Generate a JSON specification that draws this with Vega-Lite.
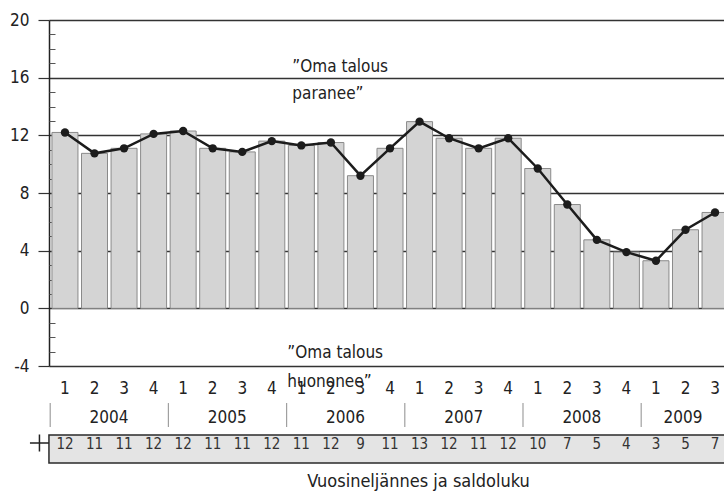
{
  "$schema": "https://vega.github.io/schema/vega-lite/v6.json",
  "width": 675,
  "height": 346,
  "autosize": "none",
  "padding": {"left": 49, "top": 20, "right": 0, "bottom": 128},
  "background": "white",
  "config": {
    "view": {"stroke": null},
    "font": "DejaVu Sans Condensed, sans-serif",
    "text": {"color": "#222"}
  },
  "datasets": {
    "kvartaalit": [
      {"kausi": "2004 1", "vuosi": "2004", "q": 1, "arvo": 12.2, "saldo": 12},
      {"kausi": "2004 2", "vuosi": "2004", "q": 2, "arvo": 10.75, "saldo": 11},
      {"kausi": "2004 3", "vuosi": "2004", "q": 3, "arvo": 11.1, "saldo": 11},
      {"kausi": "2004 4", "vuosi": "2004", "q": 4, "arvo": 12.1, "saldo": 12},
      {"kausi": "2005 1", "vuosi": "2005", "q": 1, "arvo": 12.3, "saldo": 12},
      {"kausi": "2005 2", "vuosi": "2005", "q": 2, "arvo": 11.1, "saldo": 11},
      {"kausi": "2005 3", "vuosi": "2005", "q": 3, "arvo": 10.85, "saldo": 11},
      {"kausi": "2005 4", "vuosi": "2005", "q": 4, "arvo": 11.6, "saldo": 12},
      {"kausi": "2006 1", "vuosi": "2006", "q": 1, "arvo": 11.3, "saldo": 11},
      {"kausi": "2006 2", "vuosi": "2006", "q": 2, "arvo": 11.5, "saldo": 12},
      {"kausi": "2006 3", "vuosi": "2006", "q": 3, "arvo": 9.2, "saldo": 9},
      {"kausi": "2006 4", "vuosi": "2006", "q": 4, "arvo": 11.1, "saldo": 11},
      {"kausi": "2007 1", "vuosi": "2007", "q": 1, "arvo": 12.95, "saldo": 13},
      {"kausi": "2007 2", "vuosi": "2007", "q": 2, "arvo": 11.8, "saldo": 12},
      {"kausi": "2007 3", "vuosi": "2007", "q": 3, "arvo": 11.1, "saldo": 11},
      {"kausi": "2007 4", "vuosi": "2007", "q": 4, "arvo": 11.8, "saldo": 12},
      {"kausi": "2008 1", "vuosi": "2008", "q": 1, "arvo": 9.7, "saldo": 10},
      {"kausi": "2008 2", "vuosi": "2008", "q": 2, "arvo": 7.2, "saldo": 7},
      {"kausi": "2008 3", "vuosi": "2008", "q": 3, "arvo": 4.75, "saldo": 5},
      {"kausi": "2008 4", "vuosi": "2008", "q": 4, "arvo": 3.9, "saldo": 4},
      {"kausi": "2009 1", "vuosi": "2009", "q": 1, "arvo": 3.3, "saldo": 3},
      {"kausi": "2009 2", "vuosi": "2009", "q": 2, "arvo": 5.45, "saldo": 5},
      {"kausi": "2009 3", "vuosi": "2009", "q": 3, "arvo": 6.65, "saldo": 7}
    ]
  },
  "data": {"name": "kvartaalit"},
  "resolve": {"axis": {"y": "independent"}},
  "encoding": {
    "x": {
      "field": "kausi",
      "type": "ordinal",
      "sort": null,
      "scale": {"range": [0, 682], "paddingInner": 0.12, "paddingOuter": 0.1},
      "axis": {
        "title": "Vuosineljännes ja saldoluku",
        "titleFontSize": 18,
        "titleFontWeight": "normal",
        "titleColor": "#222",
        "titleX": 369,
        "titleY": 115,
        "titleBaseline": "middle",
        "titleAnchor": null,
        "labelExpr": "split(datum.value, ' ')[1]",
        "labelAngle": 0,
        "labelFontSize": 17,
        "labelColor": "#222",
        "labelPadding": 14,
        "ticks": false,
        "domain": false,
        "grid": false
      }
    },
    "y": {
      "field": "arvo",
      "type": "quantitative",
      "scale": {"domain": [-4, 20], "nice": false, "zero": false},
      "axis": null
    }
  },
  "layer": [
    {
      "mark": {"type": "bar", "fill": "#d4d4d4", "stroke": "#8a8a8a", "strokeWidth": 1},
      "encoding": {
        "y": {
          "field": "arvo",
          "type": "quantitative",
          "scale": {"domain": [-4, 20], "nice": false, "zero": false},
          "axis": {
            "orient": "left",
            "title": null,
            "values": [-4, 0, 4, 8, 12, 16, 20],
            "labelExpr": "replace(datum.label, '−', '-')",
            "grid": true,
            "gridColor": "#333",
            "gridWidth": 1.3,
            "gridOpacity": 1,
            "domain": true,
            "domainColor": "#222",
            "domainWidth": 1.5,
            "tickSize": 11,
            "tickColor": "#333",
            "tickWidth": 1.2,
            "labelFontSize": 17,
            "labelColor": "#222",
            "labelPadding": 9
          }
        }
      }
    },
    {
      "mark": {"type": "line", "color": "#1c1c1c", "strokeWidth": 2.5}
    },
    {
      "mark": {"type": "point", "filled": true, "color": "#1c1c1c", "size": 70, "opacity": 1}
    },
    {
      "transform": [{"filter": "datum.kausi == '2004 1'"}],
      "mark": {"type": "rect", "fill": "#e4e4e4", "stroke": "#2a2a2a", "strokeWidth": 1.5, "xOffset": -3, "x2Offset": 700},
      "encoding": {
        "x": {"field": "kausi", "type": "ordinal", "bandPosition": 0},
        "x2": {"field": "kausi"},
        "y": {"datum": -8.79, "type": "quantitative", "axis": null},
        "y2": {"datum": -10.73}
      }
    },
    {
      "transform": [{"filter": "datum.kausi == '2004 1'"}],
      "mark": {"type": "point", "shape": "M-1,0H1M0,-0.9V0.9", "filled": false, "stroke": "#222", "strokeWidth": 1.5, "size": 361, "opacity": 1, "xOffset": -12.5},
      "encoding": {
        "x": {"field": "kausi", "type": "ordinal", "bandPosition": 0},
        "y": {"datum": -9.34, "type": "quantitative", "axis": null}
      }
    },
    {
      "transform": [{"filter": "datum.q == 1"}],
      "mark": {"type": "rule", "color": "#a0a0a0", "strokeWidth": 1.2, "xOffset": -1.75},
      "encoding": {
        "x": {"field": "kausi", "type": "ordinal", "bandPosition": 0},
        "y": {
          "datum": -6.57,
          "type": "quantitative",
          "axis": {
            "orient": "left",
            "title": null,
            "values": [-3, -2, -1, 1, 2, 3, 5, 6, 7, 9, 10, 11, 13, 14, 15, 17, 18, 19],
            "labels": false,
            "domain": false,
            "grid": false,
            "tickSize": -6,
            "tickColor": "#555",
            "tickWidth": 1
          }
        },
        "y2": {"datum": -8.23}
      }
    },
    {
      "transform": [{"filter": "datum.q == 3 && datum.vuosi != '2009'"}],
      "mark": {"type": "text", "fontSize": 17, "baseline": "middle", "align": "center", "dx": -2},
      "encoding": {
        "x": {"field": "kausi", "type": "ordinal", "bandPosition": 0},
        "y": {"datum": -7.6, "type": "quantitative", "axis": null},
        "text": {"field": "vuosi"}
      }
    },
    {
      "transform": [{"filter": "datum.q == 2 && datum.vuosi == '2009'"}],
      "mark": {"type": "text", "fontSize": 17, "baseline": "middle", "align": "center"},
      "encoding": {
        "x": {"field": "kausi", "type": "ordinal", "bandPosition": 0.4},
        "y": {"datum": -7.6, "type": "quantitative", "axis": null},
        "text": {"field": "vuosi"}
      }
    },
    {
      "mark": {"type": "text", "fontSize": 15, "baseline": "middle", "align": "center", "color": "#333"},
      "encoding": {
        "y": {"datum": -9.41, "type": "quantitative", "axis": null},
        "text": {"field": "saldo"}
      }
    },
    {
      "transform": [{"filter": "datum.kausi == '2006 1'"}],
      "mark": {"type": "text", "text": ["”Oma talous", "paranee”"], "fontSize": 17, "lineHeight": 27, "baseline": "alphabetic", "align": "left", "dx": 4},
      "encoding": {
        "x": {"field": "kausi", "type": "ordinal", "bandPosition": 0},
        "y": {"datum": 16.39, "type": "quantitative", "axis": null}
      }
    },
    {
      "transform": [{"filter": "datum.kausi == '2006 1'"}],
      "mark": {"type": "text", "text": ["”Oma talous", "huononee”"], "fontSize": 17, "lineHeight": 29, "baseline": "alphabetic", "align": "left", "dx": -1},
      "encoding": {
        "x": {"field": "kausi", "type": "ordinal", "bandPosition": 0},
        "y": {"datum": -3.44, "type": "quantitative", "axis": null}
      }
    }
  ]
}
